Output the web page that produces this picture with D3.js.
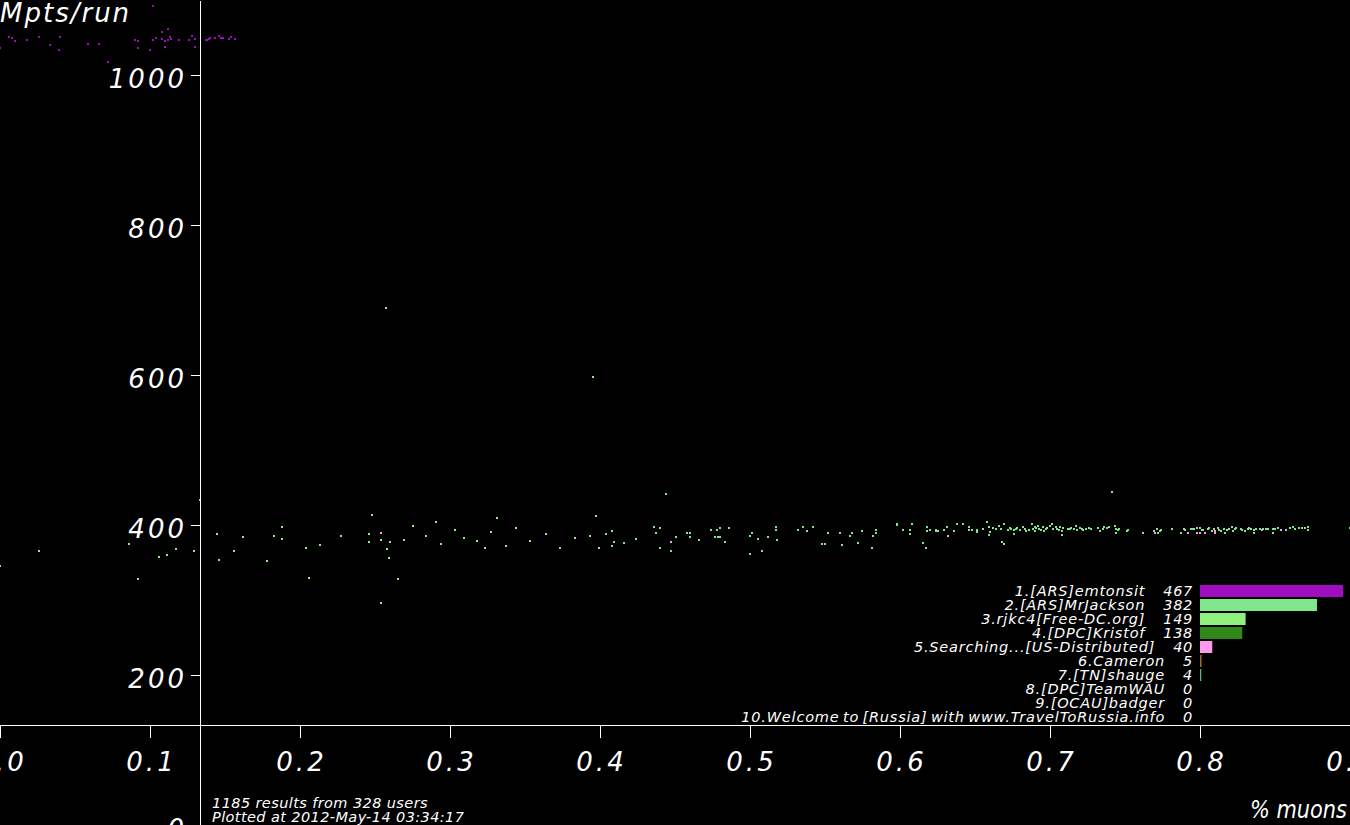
<!DOCTYPE html>
<html>
<head>
<meta charset="utf-8">
<style>
  body { margin: 0; background: #000; }
  svg { display: block; background: #000; }
  text { font-family: "DejaVu Sans", sans-serif; font-style: oblique; fill: #fff; }
</style>
<title>Mpts/run vs % muons</title>
</head>
<body>
<svg id="chart"></svg>
<script src="https://cdn.jsdelivr.net/npm/d3@7"></script>
<script>

// ========== Data: [muon fraction, Mpts/run] ==========
var emtonsitPts = [
  [0.000,1036],[0.006,1050],[0.008,1049],[0.010,1045],[0.018,1046],[0.026,1050],[0.033,1040],
  [0.039,1033],[0.040,1050],[0.059,1042],[0.066,1042],[0.072,1017],[0.090,1046],[0.092,1036],
  [0.092,1045],[0.100,1034],[0.102,1092],[0.102,1046],[0.104,1049],[0.108,1058],[0.108,1048],
  [0.110,1037],[0.112,1061],[0.110,1045],[0.112,1046],[0.114,1048],[0.113,1051],[0.119,1047],
  [0.126,1047],[0.128,1052],[0.130,1048],[0.130,1038],[0.137,1047],[0.138,1047],[0.139,1048],
  [0.140,1049],[0.143,1049],[0.146,1052],[0.147,1049],[0.149,1049],[0.153,1048],[0.154,1051],
  [0.157,1048]
];

var rjkc4Pts = [
  [0.000,345],[0.026,366],[0.086,374],[0.092,328],[0.106,358],[0.111,360],[0.117,368],[0.129,365],
  [0.133,434],[0.145,388],[0.146,354],[0.156,366],[0.162,384],[0.178,352],[0.183,386],[0.188,397],
  [0.188,382],[0.204,369],[0.206,330],[0.213,373],[0.227,386],[0.246,388],[0.246,377],[0.248,414],
  [0.254,380],[0.258,368],[0.259,356],[0.260,377],[0.254,296],[0.265,328],[0.257,689],[0.395,597],
  [0.269,380],[0.275,399],[0.284,385],[0.291,404],[0.294,375],[0.303,393],[0.309,383],[0.318,379],
  [0.323,369],[0.327,391],[0.331,409],[0.337,372],[0.344,396],[0.353,379],[0.364,388],[0.373,369],
  [0.383,383],[0.393,385],[0.397,412],[0.399,369]
];

var mrJacksonPts = [
  [0.404,388],[0.408,392],[0.409,378],[0.408,372],[0.416,376],[0.424,381],[0.436,397],[0.437,389],
  [0.440,396],[0.440,369],[0.444,441],[0.447,366],[0.451,384],[0.458,389],[0.460,389],[0.460,384],
  [0.466,380],[0.474,393],[0.477,384],[0.479,384],[0.480,384],[0.478,394],[0.480,396],[0.483,377],
  [0.486,396],[0.500,361],[0.500,385],[0.501,389],[0.505,381],[0.508,366],[0.512,384],[0.517,397],
  [0.517,393],[0.518,380],[0.532,394],[0.535,397],[0.538,392],[0.542,398],[0.548,374],[0.550,374],
  [0.552,389],[0.560,389],[0.561,373],[0.567,386],[0.568,389],[0.572,376],[0.575,392],[0.582,386],
  [0.584,393],[0.584,390],[0.598,402],[0.598,400],[0.602,393],[0.607,393],[0.607,388],[0.608,402],
  [0.615,376],[0.617,370],[0.618,398],[0.618,392],[0.620,393],[0.624,392],[0.625,392],[0.624,393],
  [0.629,393],[0.631,397],[0.636,392],[0.638,401],[0.642,401],[0.646,397],[0.646,393],[0.648,393],
  [0.651,393],[0.651,391],[0.655,395],[0.658,404],[0.659,398],[0.659,387],[0.660,391],[0.662,396],
  [0.664,395],[0.666,399],[0.667,395],[0.668,378],[0.669,374],[0.669,401],[0.672,393],[0.673,396],
  [0.674,395],[0.676,393],[0.677,395],[0.678,396],[0.676,388],[0.680,393],[0.682,398],[0.683,395],
  [0.684,392],[0.686,393],[0.688,402],[0.689,395],[0.690,398],[0.690,392],[0.691,396],[0.692,399],
  [0.693,395],[0.694,393],[0.695,398],[0.696,392],[0.697,395],[0.698,396],[0.700,399],[0.701,401],
  [0.702,395],[0.704,398],[0.705,395],[0.706,393],[0.707,398],[0.708,387],[0.708,392],[0.709,396],
  [0.712,395],[0.713,395],[0.714,396],[0.716,395],[0.717,399],[0.718,393],[0.720,396],[0.721,395],
  [0.722,393],[0.724,395],[0.726,396],[0.727,395],[0.732,396],[0.733,392],[0.735,395],[0.736,398],
  [0.738,396],[0.739,398],[0.741,444],[0.743,399],[0.744,395],[0.745,393],[0.744,389],[0.746,395],
  [0.751,392],[0.752,393],[0.762,390],[0.770,390],[0.772,389],[0.771,395],[0.773,392],[0.774,393],
  [0.781,395],[0.787,390],[0.789,395],[0.790,393],[0.794,395],[0.795,395],[0.796,395],[0.798,396],
  [0.800,396],[0.801,393],[0.802,393],[0.805,395],[0.806,396],[0.808,392],[0.809,395],[0.812,396],
  [0.813,393],[0.814,392],[0.816,395],[0.817,390],[0.818,393],[0.819,395],[0.821,397],[0.822,392],
  [0.823,395],[0.824,396],[0.827,395],[0.828,393],[0.830,392],[0.832,395],[0.833,396],[0.834,395],
  [0.836,393],[0.836,389],[0.837,395],[0.840,395],[0.842,395],[0.844,395],[0.845,395],[0.849,395],
  [0.849,389],[0.850,395],[0.852,396],[0.857,393],[0.860,396],[0.862,397],[0.863,395],[0.866,396],
  [0.868,396],[0.870,396],[0.872,393],[0.872,397],[0.900,396]
];

var searchingPts = [
  [0.254,390],[0.447,377],[0.581,369],[0.632,385],[0.769,392],[0.792,390],[0.798,390],[0.800,390],
  [0.803,390],[0.810,392],[0.810,389],[0.841,393],[0.854,393]
];

var pointSeries = [
  { pts: rjkc4Pts, color: '#90f07e' },
  { pts: mrJacksonPts, color: '#80e68c' },
  { pts: searchingPts, color: '#ff99ee' },
  { pts: emtonsitPts, color: '#a00cc0' }
];

// Legend
var legendNames = ['1.[ARS]emtonsit', '2.[ARS]MrJackson', '3.rjkc4[Free-DC.org]', '4.[DPC]Kristof',
                   '5.Searching...[US-Distributed]', '6.Cameron', '7.[TN]shauge', '8.[DPC]TeamWAU',
                   '9.[OCAU]badger', '10.Welcome to [Russia] with www.TravelToRussia.info'];
var legendCounts = [467, 382, 149, 138, 40, 5, 4, 0, 0, 0];
var legendColors = ['#a00cc0', '#80e68c', '#90f07e', '#308818', '#ff99ee', '#a86c10', '#50c080',
                    '#ffffff', '#ffffff', '#ffffff'];

var xTicks = [0, 0.1, 0.2, 0.3, 0.4, 0.5, 0.6, 0.7, 0.8, 0.9];
var yTicks = [0, 200, 400, 600, 800, 1000];
var footLines = ['1185 results from 328 users', 'Plotted at 2012-May-14 03:34:17'];

// ========== Setup ==========
var width = 1350, height = 825;
var xCross = 0.13333, yCross = 133.33;   // where the axes meet

var x = d3.scaleLinear().domain([0, 0.9]).range([0, width]);
var y = d3.scaleLinear().domain([0, 1100]).range([height, 0]);
var barX = d3.scaleLinear().domain([0, 467]).range([0, 143]);

var svg = d3.select('#chart')
    .attr('width', width)
    .attr('height', height);

// points
pointSeries.forEach(function(s) {
    svg.append('g')
        .attr('shape-rendering', 'crispEdges')
      .selectAll('rect')
      .data(s.pts)
      .enter()
      .append('rect')
        .attr('x', d => Math.round(x(d[0])) - 1)
        .attr('y', d => Math.round(y(d[1])) - 1)
        .attr('width', 2)
        .attr('height', 2)
        .attr('fill', s.color);
});

// x axis
var xAxis = svg.append('g')
    .attr('transform', `translate(0, ${y(yCross)})`)
    .call(d3.axisBottom(x).tickValues(xTicks).tickFormat(d3.format('.1f'))
          .tickSize(13).tickSizeOuter(0));
// y axis
var yAxis = svg.append('g')
    .attr('transform', `translate(${x(xCross)}, 0)`)
    .call(d3.axisLeft(y).tickValues(yTicks).tickFormat(d3.format('d'))
          .tickSize(9).tickSizeOuter(0));

[xAxis, yAxis].forEach(function(g) {
    g.attr('font-family', null).attr('font-size', null);
    g.selectAll('path, line').attr('stroke', '#fff').attr('stroke-width', 1)
        .attr('shape-rendering', 'crispEdges');
    g.selectAll('text')
        .attr('fill', '#fff')
        .style('font-size', '26px')
        .style('letter-spacing', '3px');
});
xAxis.selectAll('text').attr('y', 46).attr('dy', null).attr('dx', '1px');
yAxis.selectAll('text').attr('x', -13).attr('dy', '12px');

// axis titles
svg.append('text')
    .text('Mpts/run')
    .attr('x', 0).attr('y', 22)
    .style('font-size', '26px').style('letter-spacing', '2px');
svg.append('text')
    .text('% muons')
    .attr('x', 1250).attr('y', 818)
    .attr('textLength', 97)
    .attr('lengthAdjust', 'spacingAndGlyphs')
    .style('font-size', '25px');

// footer
svg.selectAll('.foot')
    .data(footLines)
    .enter()
    .append('text')
        .attr('class', 'foot')
        .attr('x', 212)
        .attr('y', (d, i) => 808 + i * 14)
        .style('font-size', '14.5px')
        .style('letter-spacing', '0.4px')
        .text(d => d);

// legend
var legendRows = svg.append('g').selectAll('g')
    .data(legendNames)
    .enter()
    .append('g')
        .attr('transform', (d, i) => `translate(0, ${595.5 + i * 14})`);

legendRows.append('text')
    .attr('class', 'count')
    .attr('x', 1193)
    .attr('text-anchor', 'end')
    .style('font-size', '14.5px')
    .style('letter-spacing', '0.7px')
    .text((d, i) => legendCounts[i]);

legendRows.each(function(d, i) {
    var row = d3.select(this);
    var cw = row.select('.count').node().getComputedTextLength();
    row.append('text')
        .attr('x', 1193 - cw - 18)
        .attr('text-anchor', 'end')
        .style('font-size', '14.5px')
        .style('letter-spacing', '0.8px')
        .style('word-spacing', '-2px')
        .text(d);
});

legendRows.append('rect')
    .attr('x', 1200)
    .attr('y', -10.5)
    .attr('width', (d, i) => barX(legendCounts[i]))
    .attr('height', 12)
    .attr('fill', (d, i) => legendColors[i]);

</script>
</body>
</html>
